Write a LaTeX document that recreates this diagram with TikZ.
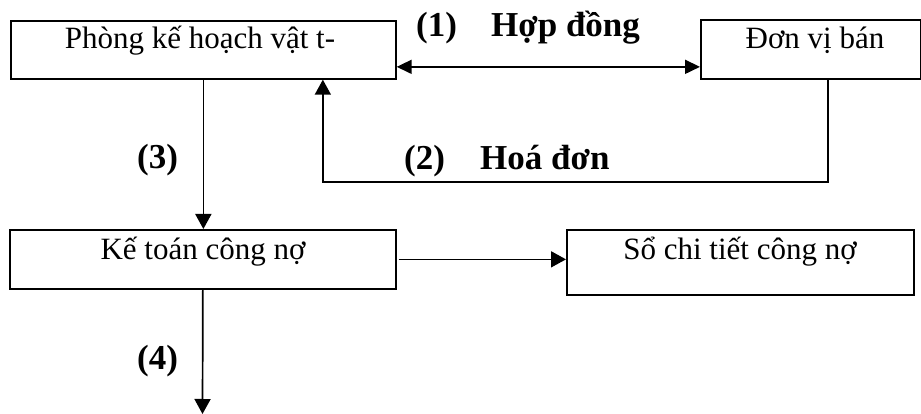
\documentclass[tikz,border=0pt]{standalone}
\usepackage{fontspec}
\setmainfont{Liberation Serif}
\usetikzlibrary{arrows.meta}
\begin{document}
\begin{tikzpicture}[x=1pt,y=-1pt,
  box/.style={draw, line width=1.7pt, inner sep=0pt, anchor=north west},
  txt/.style={font=\fontsize{31}{36}\selectfont, inner sep=0pt, anchor=base},
  lbl/.style={font=\fontsize{35}{40}\selectfont\bfseries, inner sep=0pt, anchor=base west},
  conn/.style={line width=1.7pt},
  tip/.style={-{Triangle[length=15pt,width=16pt]}},
  both/.style={{Triangle[length=15pt,width=14pt]}-{Triangle[length=15pt,width=14pt]}}]
\useasboundingbox (0,0) rectangle (921,414);
% boxes
\node[box, minimum width=385pt, minimum height=58pt] (A) at (10,20) {};
\node[box, minimum width=220pt, minimum height=59pt] (B) at (700,19) {};
\node[box, minimum width=386pt, minimum height=59pt] (C) at (9,229) {};
\node[box, minimum width=347pt, minimum height=65pt] (D) at (566,229) {};
% box texts
\node[txt] (tA) at (200,49) {Phòng kế hoạch vật t-};
\node[txt] (tB) at (815,49) {Đơn vị bán};
\node[txt] (tC) at (203,259) {Kế toán công nợ};
\node[txt] (tD) at (740,259) {Sổ chi tiết công nợ};
% labels
\node[lbl] (l1) at (416,37) {(1)};
\node[lbl] (h1) at (491,37) {Hợp đồng};
\node[lbl] (l2) at (404,170) {(2)};
\node[lbl] (h2) at (480,170) {Hoá đơn};
\node[lbl] (l3) at (137,169) {(3)};
\node[lbl] (l4) at (137,369) {(4)};
% connectors
\draw[conn, both] ([yshift=-17pt]A.east) -- ([yshift=-17pt]A.east -| B.west);
\draw[conn, tip] ([xshift=17pt]B.south) -- ++(0,102) -| ([xshift=119.5pt]A.south);
\draw[conn, tip] (A.south) -- (A.south |- C.north);
\draw[conn, tip] ([xshift=2pt]C.east) -- (C.east -| D.west);
\coordinate (e4) at (202.5,414);
\draw[conn, tip] (C.south) -- (e4);
\end{tikzpicture}
\end{document}
